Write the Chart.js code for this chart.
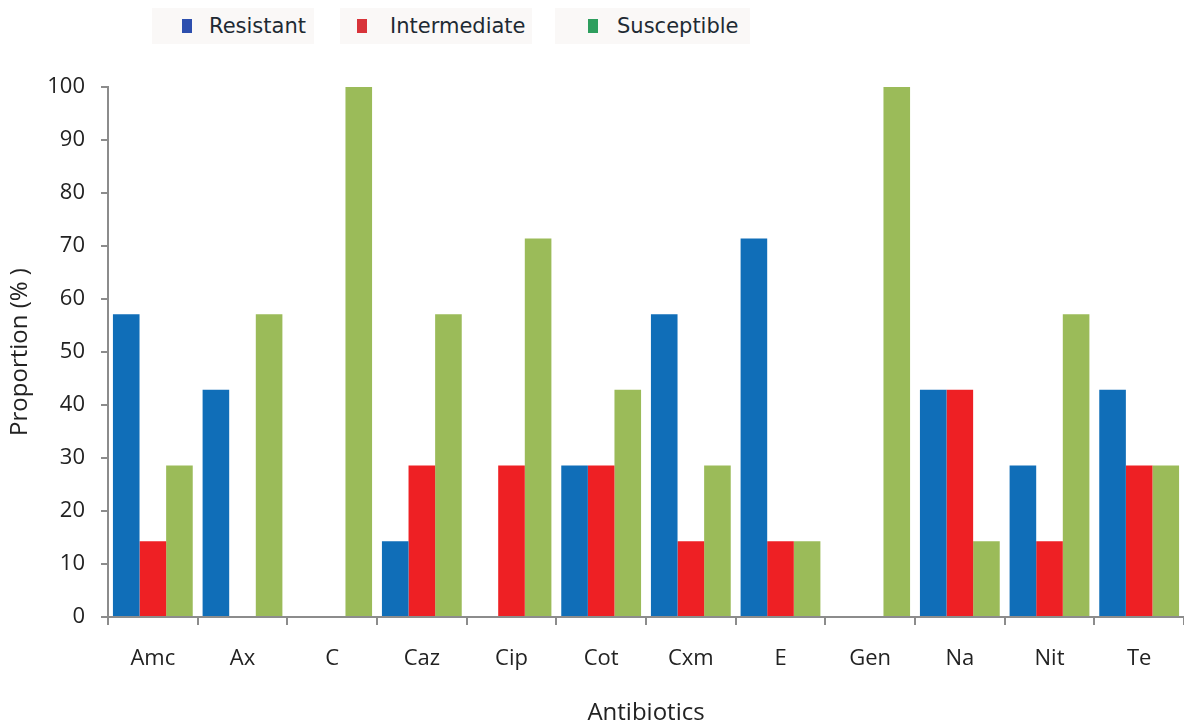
<!DOCTYPE html>
<html>
<head>
<meta charset="utf-8">
<script src="https://cdn.jsdelivr.net/npm/chart.js@4.4.0/dist/chart.umd.min.js"></script>
<style>
  html, body { margin: 0; padding: 0; background: #fff; }
  #wrap { position: relative; width: 1184px; height: 724px; }
  #legend { position: absolute; top: 8px; left: 0; width: 1184px; height: 36px; font-family: "DejaVu Sans", sans-serif; font-size: 21px; color: #1e2a33; }
  .item { position: absolute; top: 0; height: 36px; background: #faf8f7; }
  .item .sw { position: absolute; top: 11px; width: 10px; height: 14px; }
  .item .tx { position: absolute; top: 6px; white-space: nowrap; }
</style>
</head>
<body>
<div id="wrap">
  <canvas id="chart" width="1184" height="724"></canvas>
  <div id="legend"></div>
</div>
<script>
// Antibiotics (x categories)
const categories = ["Amc", "Ax", "C", "Caz", "Cip", "Cot", "Cxm", "E", "Gen", "Na", "Nit", "Te"];

// Proportion (%) per category
const resistant    = [57.1, 42.9, 0, 14.3, 0, 28.6, 57.1, 71.4, 0, 42.9, 28.6, 42.9];
const intermediate = [14.3, 0, 0, 28.6, 28.6, 28.6, 14.3, 14.3, 0, 42.9, 14.3, 28.6];
const susceptible  = [28.6, 57.1, 100, 57.1, 71.4, 42.9, 28.6, 14.3, 100, 14.3, 57.1, 28.6];

const seriesNames = ["Resistant", "Intermediate", "Susceptible"];
const barColors = ["#106eb8", "#ee2024", "#9bbb59"];
const legendColors = ["#2d4fae", "#d8343a", "#2e9e5e"];

// Legend drawn as html, placed like the original
const legendPos = [
  { box: 152, w: 162, sw: 30, tx: 57 },
  { box: 340, w: 192, sw: 17, tx: 50 },
  { box: 555, w: 195, sw: 33, tx: 62 }
];
const legendEl = document.getElementById('legend');
seriesNames.forEach((name, i) => {
  const p = legendPos[i];
  const it = document.createElement('div');
  it.className = 'item';
  it.style.left = p.box + 'px';
  it.style.width = p.w + 'px';
  it.innerHTML = '<span class="sw" style="left:' + p.sw + 'px;background:' + legendColors[i] + '"></span>' +
                 '<span class="tx" style="left:' + p.tx + 'px">' + name + '</span>';
  legendEl.appendChild(it);
});

const axisFont = "'Open Sans', sans-serif";

var ctx = document.getElementById('chart').getContext('2d');
new Chart(ctx, {
  type: 'bar',
  data: {
    labels: categories,
    datasets: [resistant, intermediate, susceptible].map((d, i) => ({
      label: seriesNames[i],
      data: d,
      backgroundColor: barColors[i],
      borderWidth: 0,
      categoryPercentage: 0.89,
      barPercentage: 1.0
    }))
  },
  options: {
    responsive: false,
    animation: false,
    layout: { padding: { top: 87, right: 0, bottom: -4, left: 0 } },
    plugins: {
      legend: { display: false },
      tooltip: { enabled: false }
    },
    scales: {
      x: {
        grid: { display: true, drawOnChartArea: false, drawTicks: true, tickLength: 8, color: '#8c8c8c', lineWidth: 2, offset: true },
        border: { color: '#8c8c8c', width: 2 },
        ticks: { color: '#222', font: { family: axisFont, size: 22 }, padding: 21, maxRotation: 0 },
        title: { display: true, text: 'Antibiotics', color: '#222', font: { family: axisFont, size: 24 }, padding: { top: 0, bottom: 0 } },
        afterFit: (s) => { s.height = 111; }
      },
      y: {
        min: 0,
        max: 100,
        ticks: { stepSize: 10, color: '#222', font: { family: axisFont, size: 22 }, padding: 16 },
        grid: { display: true, drawOnChartArea: false, drawTicks: true, tickLength: 7, color: '#8c8c8c', lineWidth: 2 },
        border: { color: '#8c8c8c', width: 2 },
        title: { display: true, text: 'Proportion (% )', color: '#222', font: { family: axisFont, size: 24 }, padding: { top: 6, bottom: 0 } },
        afterFit: (s) => { s.width = 108; }
      }
    }
  }
});
</script>
</body>
</html>
